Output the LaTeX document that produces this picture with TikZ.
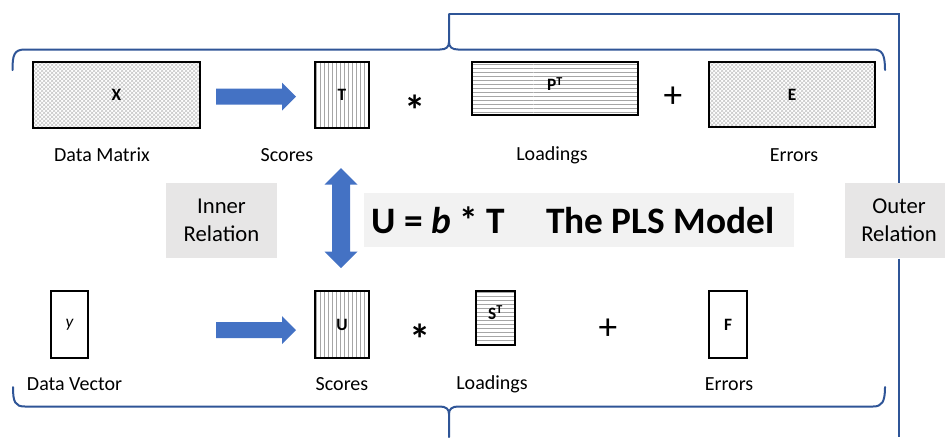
\documentclass[tikz,border=0pt]{standalone}
\usepackage{fontspec}
\setmainfont{Carlito}
\usetikzlibrary{patterns,shapes.arrows,positioning}

\definecolor{bracecol}{RGB}{47,85,151}
\definecolor{arrowcol}{RGB}{68,114,196}
\definecolor{relgray}{RGB}{231,230,230}
\definecolor{eqgray}{RGB}{242,242,242}

\tikzset{
mat/.style={draw, line width=1.5pt, inner sep=0pt, font=\bfseries\fontsize{13}{15}\selectfont},
hatch/.style={mat, pattern=crosshatch, pattern color=gray!45},
vlines/.style={mat, pattern=vertical lines, pattern color=gray!70},
hlines/.style={mat, pattern=horizontal lines, pattern color=gray!70},
plain/.style={mat, fill=white},
lbl/.style={inner sep=0.75pt, font=\fontsize{15}{18}\selectfont},
op/.style={inner sep=0.75pt, font=\fontsize{28}{30}\selectfont},
star/.style={inner sep=0.75pt, font=\bfseries\fontsize{32}{34}\selectfont},
fatarrow/.style={single arrow, fill=arrowcol, draw=none, inner sep=0pt,
  text height=11.25pt, text depth=0pt,
  minimum height=60pt, minimum width=20.25pt, single arrow head extend=4.5pt},
relbox/.style={fill=relgray, align=center, inner sep=0pt, font=\fontsize{17}{21}\selectfont},
brace/.style={draw=bracecol, line width=1.5pt, line cap=round}}
\tikzset{every picture/.style={line width=0.75pt}}

\begin{document}
\begin{tikzpicture}[x=0.75pt,y=0.75pt,yscale=-1,xscale=1]
\clip (0,0) rectangle (945,437);

% upper row
\node[hatch, minimum width=125.25pt, minimum height=49.5pt] (X) at (116.5,95) {X};
\node[vlines, minimum width=40.5pt, minimum height=49.5pt] (T) at (342,95) {T};
\node[hlines, minimum width=124.5pt, minimum height=39.75pt] (P) at (555,88.5) {};
\node[font=\bfseries\fontsize{13}{15}\selectfont, inner sep=0pt] (Plbl) at (555,84) {P\textsuperscript{T}};
\node[hatch, minimum width=124.5pt, minimum height=48.75pt] (E) at (792,94.5) {E};
\node[fatarrow] (arrXT) at (252,96.5) {};
\node[star] (times1) at (415,110) {*};
\node[op] (plus1) at (673,97) {+};

% lower row
\node[plain, minimum width=27.75pt, minimum height=50.25pt, font=\itshape\fontsize{13}{15}\selectfont] (y) at (69.5,324.5) {y};
\node[vlines, minimum width=40.5pt, minimum height=50.25pt] (U) at (342,324.5) {U};
\node[hlines, minimum width=29.25pt, minimum height=40.5pt] (S) at (495.5,318) {};
\node[font=\bfseries\fontsize{13}{15}\selectfont, inner sep=0pt] (Slbl) at (495.5,313) {S\textsuperscript{T}};
\node[plain, minimum width=28.5pt, minimum height=50.25pt] (F) at (728,324.5) {F};
\node[fatarrow] (arryU) at (252,330) {};
\node[star] (times2) at (420,339) {*};
\node[op] (plus2) at (608,329) {+};

% Text Node
\node[lbl] (lblX) at (102,155) {Data Matrix};
\node[lbl] (lblT) at (287,155) {Scores};
\node[lbl] (lblP) at (552,155) {Loadings};
\node[lbl] (lblE) at (794,155) {Errors};
\node[lbl] (lbly) at (74.5,384) {Data Vector};
\node[lbl] (lblU) at (342,384) {Scores};
\node[lbl] (lblS) at (492,384) {Loadings};
\node[lbl] (lblF) at (729,384) {Errors};

% relations
\node[relbox, minimum width=83.25pt, minimum height=56.25pt] (inner) at (221.5,220.5) {Inner\\Relation};
\node[double arrow, fill=arrowcol, inner sep=0pt, rotate=90,
  text height=12.75pt, text depth=0pt,
  minimum height=75pt, minimum width=24pt, double arrow head extend=5.625pt] (arrTU) at (341,218) {};
\node[fill=eqgray, minimum width=322.5pt, minimum height=40.5pt] (model) at (579,220) {};
\node[font=\bfseries\fontsize{28}{30}\selectfont, inner sep=0pt] (modeltxt) at (573,220)
  {U = \textit{b} * T\hspace{1.1em}The PLS Model};

% braces
\coordinate (toptip) at (449,14);
\coordinate (bottip) at (449,437);
\draw[brace] (12.5,70) .. controls (12.5,55) and (14,49.5) .. (25,49.5) -- (440,49.5)
  .. controls (446,49.5) and (449,47) .. (449,42) -- (toptip);
\draw[brace] (449,42) .. controls (449,47) and (452,49.5) .. (458,49.5) -- (873,49.5)
  .. controls (882,49.5) and (885,54) .. (885,70);
\draw[brace] (13,387) .. controls (13,402) and (15,406.5) .. (25,406.5) -- (440,406.5)
  .. controls (446,406.5) and (449,409) .. (449,414) -- (bottip);
\draw[brace] (449,414) .. controls (449,409) and (452,406.5) .. (458,406.5) -- (873,406.5)
  .. controls (882,406.5) and (885,402) .. (885,387);

% outer relation
\node[relbox, minimum width=81pt, minimum height=56.25pt] (outer) at (899,220.5) {Outer\\Relation};
\coordinate (outerend) at (899,437);
\draw[brace, line cap=butt] (toptip) -| (outer.north);
\draw[brace, line cap=butt] (outer.south) -- (outerend);

\end{tikzpicture}
\end{document}
